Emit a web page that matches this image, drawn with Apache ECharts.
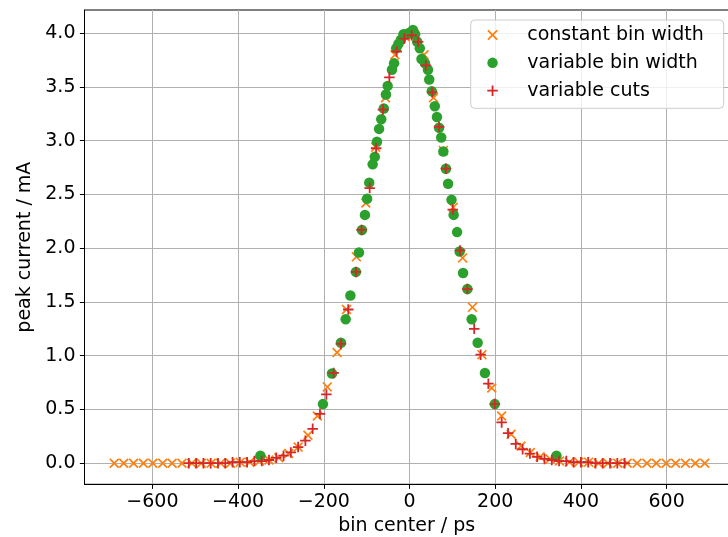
<!DOCTYPE html>
<html><head><meta charset="utf-8">
<script src="https://cdn.jsdelivr.net/npm/echarts@6/dist/echarts.min.js"></script>
<style>html,body{margin:0;padding:0;background:#fff}#c{width:728px;height:537px}</style>
</head><body><div id="c"></div>
<script>
// constant bin width (orange x)
const constX = [-689,-667,-644,-621,-599,-576,-554,-531,-508,-486,-463,-441,-418,-395,-373,-350,-328,-305,-282,-260,-237,-215,-192,-169,-147,-124,-102,-79,-56,-34,-11,
                11,34,56,79,102,124,147,169,192,215,237,260,282,305,328,350,373,395,418,441,463,486,508,531,554,576,599,621,644,667,689];
const constY = [0,0,0,0,0,0,0,0,0,0,0,0,0.00,0.01,0.01,0.02,0.03,0.05,0.09,0.15,0.26,0.44,0.71,1.03,1.43,1.92,2.42,2.94,3.40,3.80,3.97,
                3.99,3.80,3.40,2.91,2.38,1.91,1.45,1.01,0.70,0.44,0.27,0.16,0.10,0.06,0.04,0.02,0.01,0.01,0.01,0,0,0,0,0,0,0,0,0,0,0,0];
// variable bin width (green dots)
const varX = [-348,-202,-181,-160,-149,-138,-125,-118,-111,-104,-99,-94,-86,-81,-76,-71,-66,-60,-55,-51,-41,-36,-31,-26,-20,-14,-8,-2,3,8,13,18,24,28,36,43,46,52,59,64,69,74,79,85,90,98,103,111,117,125,135,145,159,176,199,343];
const varY = [0.07,0.55,0.835,1.12,1.34,1.56,1.78,1.96,2.17,2.31,2.46,2.61,2.78,2.85,2.99,3.11,3.20,3.30,3.43,3.51,3.66,3.72,3.86,3.90,3.94,3.99,3.99,4.00,4.01,4.03,3.99,3.92,3.86,3.76,3.72,3.66,3.57,3.46,3.32,3.22,3.12,3.03,2.90,2.74,2.60,2.45,2.31,2.15,1.97,1.77,1.62,1.34,1.12,0.84,0.55,0.07];
// variable cuts (red +)
const cutX = [-515,-498,-481,-464,-447,-430,-413,-396,-379,-362,-345,-328,-311,-294,-277,-260,-243,-226,-209,-194,-177,-160,-143,-125,-112,-93,-78,-62,-47,-30,
              -12,5,20,38,53,69,85,101,118,135,151,166,184,199,215,230,248,264,281,298,315,332,349,366,383,400,417,434,451,468,485,502];
const cutY = [0,0,0,0,0,0,0.01,0.01,0.01,0.02,0.02,0.03,0.05,0.07,0.10,0.15,0.21,0.32,0.46,0.64,0.84,1.11,1.43,1.78,2.17,2.56,2.93,3.29,3.59,3.83,
              3.95,3.98,3.92,3.70,3.45,3.13,2.74,2.36,1.98,1.62,1.25,1.01,0.74,0.55,0.38,0.28,0.18,0.13,0.09,0.06,0.04,0.03,0.02,0.02,0.01,0.01,0.01,0,0,0,0,0];
const seriesNames = ['constant bin width','variable bin width','variable cuts'];
const xTicks = [-600,-400,-200,0,200,400,600];
const yTicks = [0,0.5,1,1.5,2,2.5,3,3.5,4];

const FONT = 'DejaVu Sans';
const X_PATH = 'path://M0,1.2 L1.2,0 L5,3.8 L8.8,0 L10,1.2 L6.2,5 L10,8.8 L8.8,10 L5,6.2 L1.2,10 L0,8.8 L3.8,5 Z';
const PLUS_PATH = 'path://M4.15,0 H5.85 V4.15 H10 V5.85 H5.85 V10 H4.15 V5.85 H0 V4.15 H4.15 Z';

const pairs = (xs, ys) => xs.map((x, i) => [x, ys[i]]);
const chart = echarts.init(document.getElementById('c'), null, {renderer: 'canvas'});
const labelStyle = {color: '#000', fontSize: 19, fontFamily: FONT};
chart.setOption({
  animation: false,
  backgroundColor: '#fff',
  textStyle: {fontFamily: FONT},
  grid: {left: 84.5, top: 10, width: 644.5, height: 474.3, show: true, borderColor: '#000', borderWidth: 1,
         backgroundColor: 'transparent', containLabel: false, outerBoundsMode: 'none'},
  xAxis: {
    type: 'value', min: -758.5, max: 745.6, splitNumber: 7,
    axisLine: {show: true, onZero: false, lineStyle: {color: '#000', width: 1}},
    axisTick: {show: true, length: 4.6, lineStyle: {color: '#000', width: 1}, customValues: xTicks},
    axisLabel: Object.assign({customValues: xTicks, margin: 8,
      formatter: v => v < 0 ? '\u2212' + Math.abs(v) : String(v)}, labelStyle),
    splitLine: {show: true, lineStyle: {color: '#b0b0b0', width: 1}},
    name: 'bin center / ps', nameLocation: 'middle', nameGap: 29, nameTextStyle: labelStyle
  },
  yAxis: {
    type: 'value', min: -0.196, max: 4.216, splitNumber: 9,
    axisLine: {show: true, onZero: false, lineStyle: {color: '#000', width: 1}},
    axisTick: {show: true, length: 4.6, lineStyle: {color: '#000', width: 1}, customValues: yTicks},
    axisLabel: Object.assign({customValues: yTicks, margin: 9, formatter: v => v.toFixed(1)}, labelStyle),
    splitLine: {show: true, lineStyle: {color: '#b0b0b0', width: 1}},
    name: 'peak current / mA', nameLocation: 'middle', nameGap: 50, nameRotate: 90, nameTextStyle: labelStyle
  },
  legend: {
    orient: 'vertical', left: 470.7, top: 20, padding: [5.5, 20, 8.1, 16.6],
    itemWidth: 22, itemHeight: 10.5, itemGap: 8.85, selectedMode: false,
    backgroundColor: 'rgba(255,255,255,0.8)', borderColor: '#cccccc', borderWidth: 1, borderRadius: 4,
    textStyle: {fontFamily: FONT, fontSize: 19, color: '#000', lineHeight: 19, padding: [0, 0, 0, 18.7]},
    data: seriesNames
  },
  series: [
    {type: 'scatter', name: seriesNames[0], data: pairs(constX, constY), symbol: X_PATH, symbolSize: 10,
     itemStyle: {color: '#ff7f0e', opacity: 1}, emphasis: {disabled: true}},
    {type: 'scatter', name: seriesNames[1], data: pairs(varX, varY), symbol: 'circle', symbolSize: 10.5,
     itemStyle: {color: '#2ca02c', opacity: 1}, emphasis: {disabled: true}},
    {type: 'scatter', name: seriesNames[2], data: pairs(cutX, cutY), symbol: PLUS_PATH, symbolSize: 10.5,
     itemStyle: {color: '#d62728', opacity: 1}, emphasis: {disabled: true}}
  ]
});
</script></body></html>
